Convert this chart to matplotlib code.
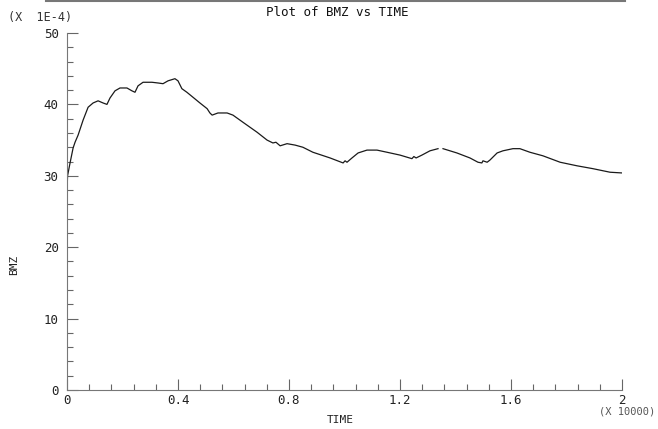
import numpy as np
import matplotlib
matplotlib.use("Agg")
import matplotlib.pyplot as plt
from matplotlib.lines import Line2D
from matplotlib.ticker import MultipleLocator, FixedLocator, FixedFormatter

# TIME (x 10000) and BMZ (x 1E-4) samples
time = [0.000, 0.002, 0.011, 0.022, 0.029, 0.040, 0.058, 0.076, 0.094, 0.112,
        0.130, 0.144, 0.155, 0.173, 0.191, 0.216, 0.234, 0.245, 0.256, 0.274,
        0.306, 0.328, 0.346, 0.364, 0.389, 0.400, 0.414, 0.432, 0.454, 0.479,
        0.505, 0.515, 0.523, 0.544, 0.577, 0.598, 0.634, 0.685, 0.721, 0.742,
        0.753, 0.768, 0.793, 0.822, 0.850, 0.886, 0.948, 0.995, 1.002, 1.009,
        1.027, 1.049, 1.081, 1.117, 1.153, 1.200, 1.243, 1.250, 1.258, 1.279,
        1.308, 1.337, 1.346, 1.355, 1.405, 1.452, 1.481, 1.495, 1.499, 1.514,
        1.524, 1.550, 1.571, 1.607, 1.632, 1.668, 1.715, 1.777, 1.838, 1.895,
        1.957, 2.000]
bmz = [27.8, 30.0, 31.8, 33.9, 34.7, 35.7, 37.8, 39.6, 40.2, 40.5,
       40.2, 40.0, 40.9, 41.9, 42.3, 42.3, 41.9, 41.7, 42.6, 43.1,
       43.1, 43.0, 42.9, 43.3, 43.6, 43.3, 42.2, 41.7, 41.0, 40.2,
       39.4, 38.8, 38.5, 38.8, 38.8, 38.5, 37.5, 36.1, 35.0, 34.6,
       34.7, 34.2, 34.5, 34.3, 34.0, 33.3, 32.5, 31.8, 32.1, 31.9,
       32.5, 33.2, 33.6, 33.6, 33.3, 32.9, 32.4, 32.7, 32.5, 32.9,
       33.5, 33.8, np.nan, 33.8, 33.2, 32.5, 31.9, 31.8, 32.1, 31.9,
       32.2, 33.2, 33.5, 33.8, 33.8, 33.3, 32.8, 31.9, 31.4, 31.0,
       30.5, 30.4]

x_ticks = [0, 0.4, 0.8, 1.2, 1.6, 2.0]
x_labels = ["0", "0.4", "0.8", "1.2", "1.6", "2"]
y_ticks = [0, 10, 20, 30, 40, 50]
y_labels = ["0", "10", "20", "30", "40", "50"]

font = "DejaVu Sans Mono"
plt.rcParams["font.family"] = [font]

fig = plt.figure(figsize=(6.58, 4.29), dpi=100)
ax = fig.add_axes([67 / 658, 1 - 390 / 429, 555 / 658, 357 / 429])

ax.plot(time, bmz, color="#1a1a1a", linewidth=0.9)

ax.set_xlim(0, 2)
ax.set_ylim(0, 50)
for side in ("top", "right"):
    ax.spines[side].set_visible(False)
for side in ("left", "bottom"):
    ax.spines[side].set_color("#777777")
    ax.spines[side].set_linewidth(0.8)

ax.xaxis.set_major_locator(FixedLocator(x_ticks))
ax.xaxis.set_major_formatter(FixedFormatter(x_labels))
ax.xaxis.set_minor_locator(MultipleLocator(0.08))
ax.yaxis.set_major_locator(FixedLocator(y_ticks))
ax.yaxis.set_major_formatter(FixedFormatter(y_labels))
ax.yaxis.set_minor_locator(MultipleLocator(2))

ax.tick_params(axis="both", which="major", direction="in", length=8,
               width=0.8, color="#666666", labelsize=9, labelcolor="#222222")
ax.tick_params(axis="x", which="major", pad=3)
ax.tick_params(axis="y", which="major", pad=6)
ax.tick_params(axis="both", which="minor", direction="in", length=4,
               width=0.8, color="#666666")

fig.text(14 / 658, 1 - 265 / 429, "BMZ", ha="center", va="center",
         rotation=90, fontsize=8, color="#222222", family=font)
fig.text(340 / 658, 1 - 420 / 429, "TIME", ha="center", va="center",
         fontsize=8, color="#222222", family=font)
fig.text(337 / 658, 1 - 12 / 429, "Plot of BMZ vs TIME", ha="center",
         va="center", fontsize=9, color="#111111", family=font)
fig.text(8 / 658, 1 - 18 / 429, "(X  1E-4)", ha="left", va="center",
         fontsize=8.5, color="#333333", family=font)
fig.text(655 / 658, 1 - 412 / 429, "(X 10000)", ha="right", va="center",
         fontsize=7.5, color="#555555", family=font)

# faint rule along the top edge of the sheet
fig.add_artist(Line2D([0.07, 0.95], [0.997, 0.997], color="#777777",
                      linewidth=1.5, transform=fig.transFigure))

fig.savefig("out.png", dpi=100)
